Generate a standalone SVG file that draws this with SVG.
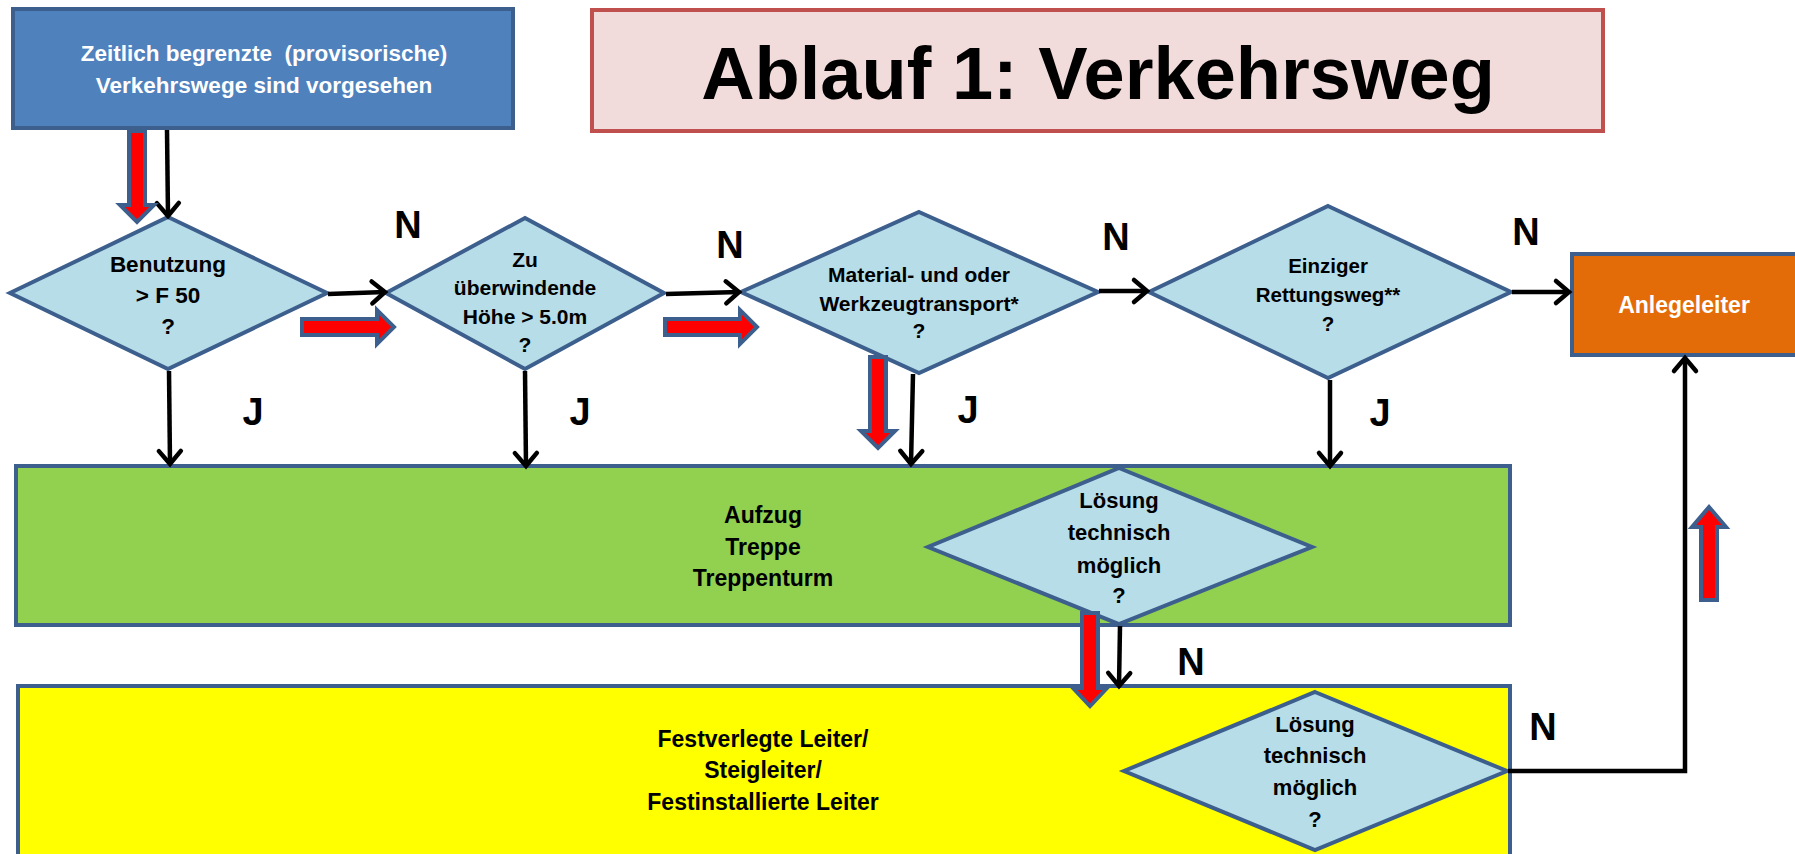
<svg xmlns="http://www.w3.org/2000/svg" width="1795" height="854" viewBox="0 0 1795 854">
<style>
.box{stroke:#3C5F8D;stroke-width:4}
.dia{fill:#B7DDE8;stroke:#3C5F8D;stroke-width:4;stroke-linejoin:miter}
.t{font-family:"Liberation Sans",Arial,sans-serif;font-weight:bold;text-anchor:middle;fill:#000}
.w{fill:#FFFFFF}
.lab{font-size:38px}
.conn{stroke:#000;stroke-width:4.5;fill:none;marker-end:url(#chev)}
.blk{fill:#FF0000;stroke:#3C5F8D;stroke-width:4;stroke-linejoin:miter}
</style>
<defs>
<marker id="chev" markerUnits="userSpaceOnUse" viewBox="-16 -14 20 28" markerWidth="20" markerHeight="28" refX="0" refY="0" orient="auto" overflow="visible">
<path d="M-13,-11 L0,0 L-13,11" fill="none" stroke="#000" stroke-width="4.5" stroke-linecap="round"/>
</marker>
</defs>
<rect width="1795" height="854" fill="#FFFFFF"/>

<g id="start">
<rect class="box" x="13" y="9" width="500" height="119" fill="#4F81BD"/>
<text class="t w" x="264" y="61" font-size="22.5" xml:space="preserve">Zeitlich begrenzte  (provisorische)</text>
<text class="t w" x="264" y="93" font-size="22.5">Verkehrswege sind vorgesehen</text>
</g>

<g id="title">
<rect x="592" y="10" width="1011" height="121" fill="#F2DCDB" stroke="#C0504D" stroke-width="4"/>
<text class="t" x="1098" y="99" font-size="74">Ablauf 1: Verkehrsweg</text>
</g>

<g id="aufzug">
<rect class="box" x="16" y="466" width="1494" height="159" fill="#92D050"/>
<text class="t" x="763" y="523" font-size="23">Aufzug</text>
<text class="t" x="763" y="555" font-size="23">Treppe</text>
<text class="t" x="763" y="586" font-size="23">Treppenturm</text>
</g>

<g id="leiter">
<rect class="box" x="18" y="686" width="1492" height="190" fill="#FFFF00"/>
<text class="t" x="763" y="747" font-size="23">Festverlegte Leiter/</text>
<text class="t" x="763" y="778" font-size="23">Steigleiter/</text>
<text class="t" x="763" y="810" font-size="23">Festinstallierte Leiter</text>
</g>

<g id="anlegeleiter">
<rect class="box" x="1572" y="254" width="240" height="101" fill="#E36C09"/>
<text class="t w" x="1684" y="313" font-size="23">Anlegeleiter</text>
</g>

<g id="d1">
<polygon class="dia" points="168,217 327,293 168,369 10,293"/>
<text class="t" x="168" y="272" font-size="22.5">Benutzung</text>
<text class="t" x="168" y="303" font-size="22.5">&gt; F 50</text>
<text class="t" x="168" y="334" font-size="22.5">?</text>
</g>

<g id="d2">
<polygon class="dia" points="525,218 664,293 525,369 386,293"/>
<text class="t" x="525" y="267" font-size="21">Zu</text>
<text class="t" x="525" y="295" font-size="21">überwindende</text>
<text class="t" x="525" y="324" font-size="21">Höhe &gt; 5.0m</text>
<text class="t" x="525" y="352" font-size="21">?</text>
</g>

<g id="d3">
<polygon class="dia" points="919,212 1098,292 919,373 741,292"/>
<text class="t" x="919" y="282" font-size="21">Material- und oder</text>
<text class="t" x="919" y="311" font-size="21">Werkzeugtransport*</text>
<text class="t" x="919" y="338" font-size="21">?</text>
</g>

<g id="d4">
<polygon class="dia" points="1328,206 1511,292 1328,378 1149,292"/>
<text class="t" x="1328" y="273" font-size="20.5">Einziger</text>
<text class="t" x="1328" y="302" font-size="20.5">Rettungsweg**</text>
<text class="t" x="1328" y="331" font-size="20.5">?</text>
</g>

<g id="loesung1">
<polygon class="dia" points="1119,468 1312,547 1119,624 928,547"/>
<text class="t" x="1119" y="508" font-size="22">Lösung</text>
<text class="t" x="1119" y="540" font-size="22">technisch</text>
<text class="t" x="1119" y="573" font-size="22">möglich</text>
<text class="t" x="1119" y="603" font-size="22">?</text>
</g>

<g id="loesung2">
<polygon class="dia" points="1315,692 1507,771 1315,850 1124,771"/>
<text class="t" x="1315" y="732" font-size="22">Lösung</text>
<text class="t" x="1315" y="763" font-size="22">technisch</text>
<text class="t" x="1315" y="795" font-size="22">möglich</text>
<text class="t" x="1315" y="827" font-size="22">?</text>
</g>

<g id="connectors">
<line class="conn" x1="167" y1="130" x2="168" y2="216"/>
<line class="conn" x1="328" y1="294" x2="385" y2="292"/>
<line class="conn" x1="666" y1="294" x2="739" y2="292"/>
<line class="conn" x1="1099" y1="291" x2="1147" y2="291"/>
<line class="conn" x1="1512" y1="292" x2="1569" y2="292"/>
<line class="conn" x1="169" y1="371" x2="170" y2="464"/>
<line class="conn" x1="525" y1="371" x2="526" y2="466"/>
<line class="conn" x1="913" y1="374" x2="911" y2="464"/>
<line class="conn" x1="1330" y1="380" x2="1330" y2="466"/>
<line class="conn" x1="1120" y1="626" x2="1119" y2="686"/>
<polyline class="conn" points="1508,771 1685,771 1685,358"/>

<path class="blk" d="M129,131 V205 H120 L137,222 L154,205 H145 V131 Z"/>
<path class="blk" d="M302,319 H377 V310 L394,327 L377,344 V335 H302 Z"/>
<path class="blk" d="M665,319 H740 V310 L757,327 L740,344 V335 H665 Z"/>
<path class="blk" d="M870,357 V431 H861 L878,448 L895,431 H886 V357 Z"/>
<path class="blk" d="M1082,613 V688 H1073 L1090,706 L1107,688 H1098 V613 Z"/>
<path class="blk" d="M1701,600 V527 H1692 L1709,507 L1726,527 H1717 V600 Z"/>

<text class="t lab" x="408" y="238">N</text>
<text class="t lab" x="730" y="258">N</text>
<text class="t lab" x="1116" y="250">N</text>
<text class="t lab" x="1526" y="245">N</text>
<text class="t lab" x="1191" y="675">N</text>
<text class="t lab" x="1543" y="740">N</text>
<text class="t lab" x="253" y="425">J</text>
<text class="t lab" x="580" y="425">J</text>
<text class="t lab" x="968" y="423">J</text>
<text class="t lab" x="1380" y="426">J</text>
</g>
</svg>
